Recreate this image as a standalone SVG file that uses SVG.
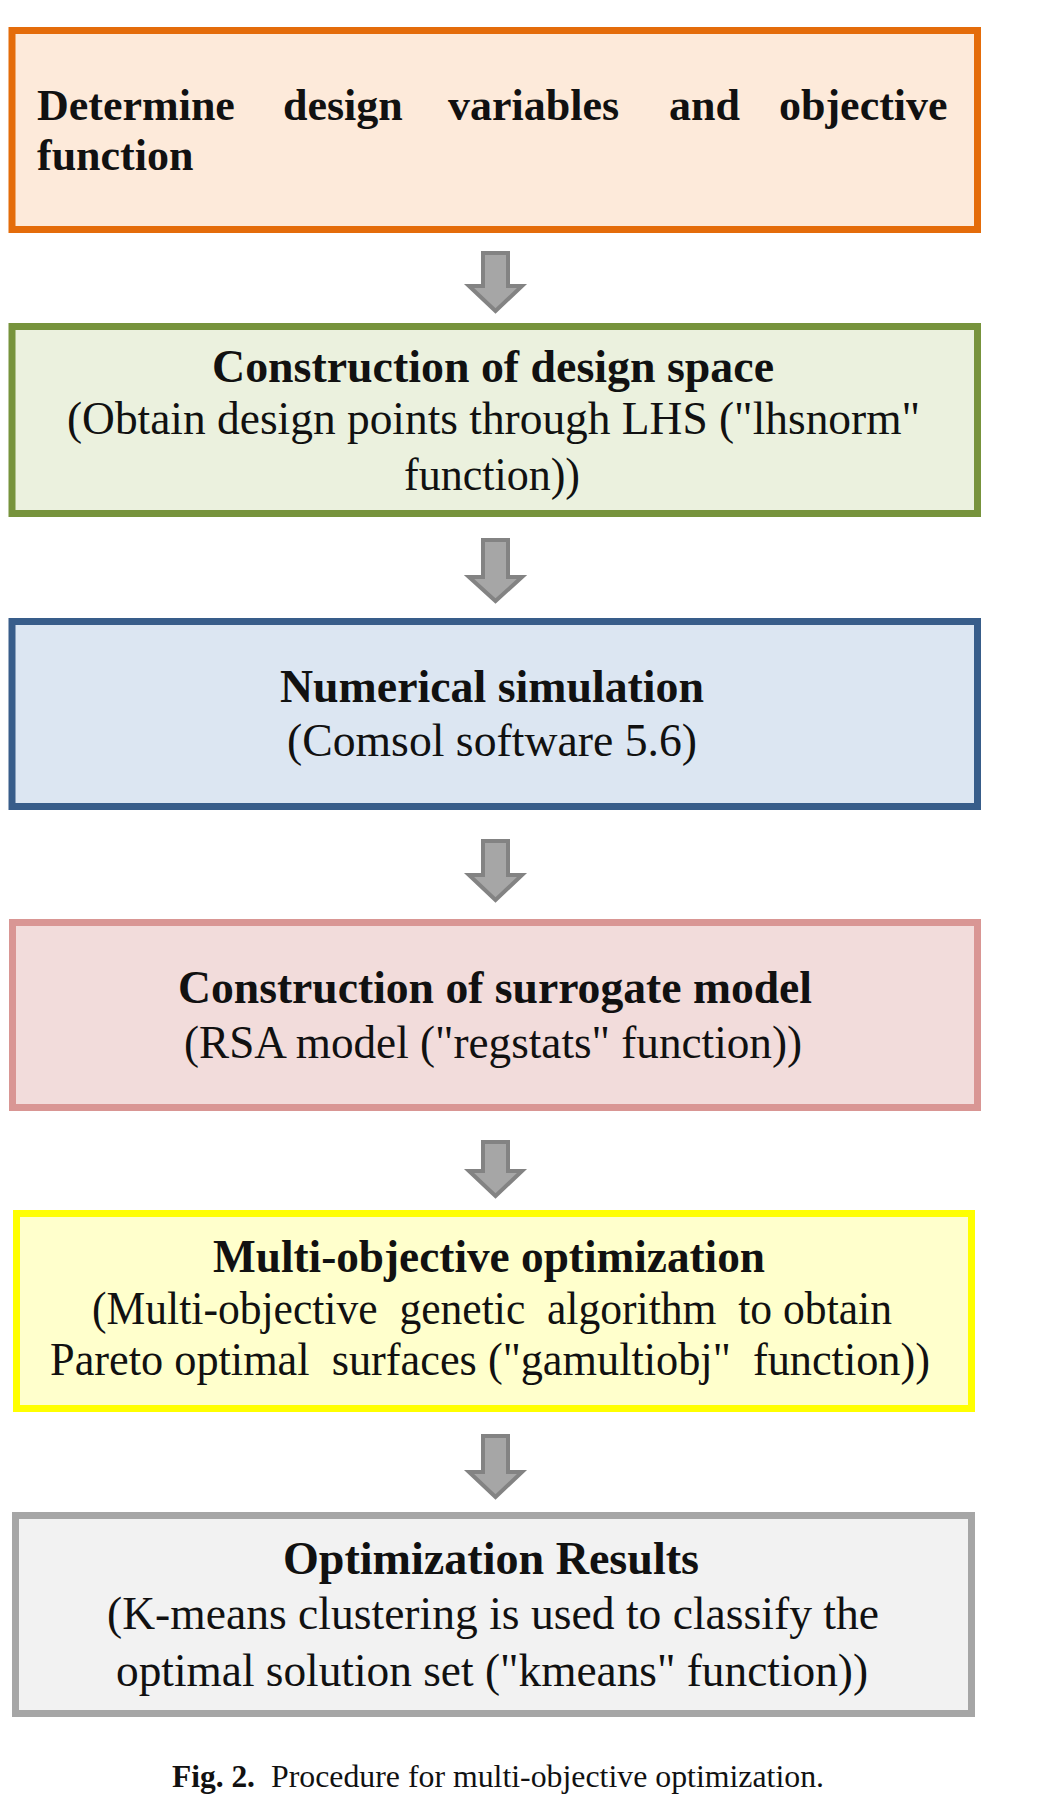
<svg xmlns="http://www.w3.org/2000/svg" width="1037" height="1818" viewBox="0 0 1037 1818">
<style>
.box{stroke-width:7;stroke-linejoin:miter}
.b1{font-family:"Liberation Serif","Times New Roman",serif;font-weight:bold;font-size:44px;fill:#111}
.b{font-family:"Liberation Serif","Times New Roman",serif;font-weight:bold;font-size:46px;fill:#111}
.r{font-family:"Liberation Serif","Times New Roman",serif;font-size:46px;fill:#111;white-space:pre}
.cap{font-family:"Liberation Serif","Times New Roman",serif;font-size:31px;fill:#111}
.arr{fill:#A6A6A6;stroke:#838383;stroke-width:4;stroke-linejoin:miter}
</style>
<rect width="1037" height="1818" fill="#ffffff"/>
<g id="node-determine">
<rect class="box" x="12" y="30.5" width="965.5" height="199" fill="#FDEADA" stroke="#E46C0A"/>
<text class="b1" y="120"><tspan x="37">Determine</tspan><tspan x="283">design</tspan><tspan x="448">variables</tspan><tspan x="669">and</tspan><tspan x="779">objective</tspan></text>
<text class="b1" x="37" y="170">function</text>
</g>
<g id="node-design-space">
<rect class="box" x="12" y="326.5" width="965.5" height="187" fill="#EBF1DE" stroke="#77933C"/>
<text class="b" x="212" y="382" textLength="562" lengthAdjust="spacingAndGlyphs">Construction of design space</text>
<text class="r" x="67" y="434" textLength="853" lengthAdjust="spacingAndGlyphs">(Obtain design points through LHS ("lhsnorm"</text>
<text class="r" x="404" y="490" textLength="176" lengthAdjust="spacingAndGlyphs">function))</text>
</g>
<g id="node-simulation">
<rect class="box" x="12" y="621.5" width="965.5" height="185" fill="#DCE6F2" stroke="#385D8A"/>
<text class="b" x="280" y="702" textLength="424" lengthAdjust="spacingAndGlyphs">Numerical simulation</text>
<text class="r" x="287" y="756" textLength="410" lengthAdjust="spacingAndGlyphs">(Comsol software 5.6)</text>
</g>
<g id="node-surrogate">
<rect class="box" x="12.5" y="922.5" width="965" height="185" fill="#F2DCDB" stroke="#D99694"/>
<text class="b" x="178" y="1003" textLength="634" lengthAdjust="spacingAndGlyphs">Construction of surrogate model</text>
<text class="r" x="184" y="1058" textLength="618" lengthAdjust="spacingAndGlyphs">(RSA model ("regstats" function))</text>
</g>
<g id="node-moo">
<rect class="box" x="16.5" y="1213.5" width="955" height="195" fill="#FFFFCC" stroke="#FFFF00"/>
<text class="b" x="213" y="1272" textLength="552" lengthAdjust="spacingAndGlyphs">Multi-objective optimization</text>
<text class="r" x="92" y="1324" textLength="800" lengthAdjust="spacingAndGlyphs">(Multi-objective  genetic  algorithm  to obtain</text>
<text class="r" x="50" y="1375" textLength="880" lengthAdjust="spacingAndGlyphs">Pareto optimal  surfaces ("gamultiobj"  function))</text>
</g>
<g id="node-results">
<rect class="box" x="15.5" y="1515.5" width="956" height="198" fill="#F2F2F2" stroke="#A6A6A6"/>
<text class="b" x="283" y="1574" textLength="416" lengthAdjust="spacingAndGlyphs">Optimization Results</text>
<text class="r" x="107" y="1629" textLength="772" lengthAdjust="spacingAndGlyphs">(K-means clustering is used to classify the</text>
<text class="r" x="116" y="1686" textLength="752" lengthAdjust="spacingAndGlyphs">optimal solution set ("kmeans" function))</text>
</g>
<g id="connectors">
<polygon class="arr" points="483,253 508,253 508,286 522,286 495.5,311 469,286 483,286"/>
<polygon class="arr" points="483,540 508,540 508,577 522,577 495.5,601 469,577 483,577"/>
<polygon class="arr" points="483,841 508,841 508,875 522,875 495.5,900 469,875 483,875"/>
<polygon class="arr" points="483,1142 508,1142 508,1171 522,1171 495.5,1196 469,1171 483,1171"/>
<polygon class="arr" points="483,1436 508,1436 508,1472 522,1472 495.5,1497 469,1472 483,1472"/>
</g>
<g id="caption">
<text class="cap" x="172" y="1787" font-weight="bold" textLength="83" lengthAdjust="spacingAndGlyphs">Fig. 2.</text>
<text class="cap" x="271" y="1787" textLength="553" lengthAdjust="spacingAndGlyphs">Procedure for multi-objective optimization.</text>
</g>
</svg>
